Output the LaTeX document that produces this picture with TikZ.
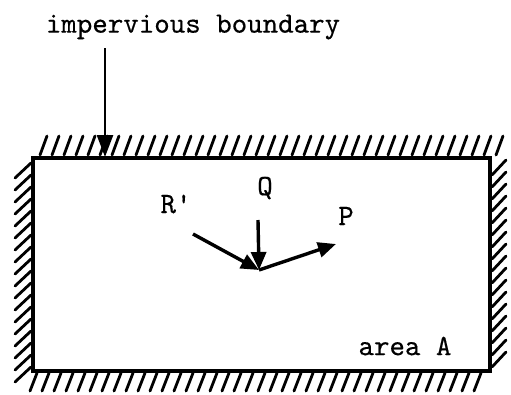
\documentclass[tikz,border=0pt]{standalone}
\usepackage{fontspec}
\newfontfamily\twfont{lmmono10-regular.otf}[FakeBold=0.4]
\usetikzlibrary{arrows.meta}
\begin{document}
\begin{tikzpicture}[x=1pt,y=-1pt,
  hatch/.style={line width=2.8pt,line cap=round},
  wall/.style={line width=4.5pt,line join=miter},
  lbl/.style={font=\twfont\fontsize{29.5}{31}\selectfont,inner sep=0pt},
  vec/.style={line width=3.4pt,-{Triangle[length=18pt,width=15pt]}},
  big/.style={line width=2.6pt,-{Triangle[length=22pt,width=16pt]}}]
\useasboundingbox (0,0) rectangle (511,394);
% hatching
\foreach \x in {40,52,...,496} \draw[hatch] (\x,155) -- (\x+7,136);
\foreach \x in {30,42,...,484} \draw[hatch] (\x,391) -- (\x+7,373);
\foreach \y in {163,175,...,370} \draw[hatch] (31,\y) -- (15,\y+15);
\foreach \y in {160,172,...,356} \draw[hatch] (492,\y+15) -- (506,\y);
% boundary
\draw[wall] (33,158) rectangle (490,371);
% labels
\node[lbl] (imp) at (193,27) {impervious boundary};
\coordinate (impend) at (105,157);
\draw[big] (105,48) -- (impend);
\node[lbl] (R) at (176,204) {R'};
\node[lbl] (Q) at (265,188) {Q};
\node[lbl] (P) at (346,216) {P};
\node[lbl] (A) at (405,346) {area A};
\coordinate (O) at (259,270);
\coordinate (Rs) at (193,234);
\coordinate (Qs) at (258,220);
\coordinate (Pe) at (336,244);
\draw[vec] (Rs) -- (O);
\draw[vec] (Qs) -- (O);
\draw[vec] (O) -- (Pe);
\end{tikzpicture}
\end{document}
